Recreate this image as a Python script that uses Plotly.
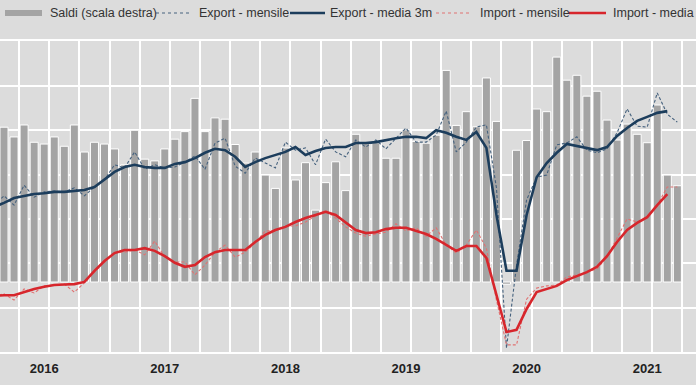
import plotly.graph_objects as go

# ---------------- data (Jan 2016 .. Sep 2021) ----------------
months = [f"{y}-{m:02d}" for y in range(2016, 2022) for m in range(1, 13)][:69]

# Saldi (scala destra), milioni di euro
saldi = [3300,
         3490, 3270, 3540, 3150, 3110, 3270, 3060, 3540, 2930, 3150, 3110, 3000,
         2640, 3420, 2770, 2730, 3000, 3220, 3390, 4140, 3390, 3700, 3670, 3100,
         2680, 2930, 2410, 2110, 3020, 2300, 2690, 1620, 2240, 2710, 2060, 3330,
         3140, 3140, 2790, 2790, 3430, 3170, 3130, 3310, 4770, 3530, 3840, 3500,
         4600, 3620, -50, 2970, 3190, 3900, 3840, 5070, 4550, 4660, 4190, 4300,
         3650, 3200, 3560, 3330, 3140, 3990, 2410, 2170]

export_mensile = [16310,
                  16520, 16310, 16760, 16490, 16610, 16630, 16610, 16700, 16520, 16720, 16880, 17220,
                  17150, 17510, 17120, 17220, 17150, 17170, 17280, 17420, 17120, 17710, 17820, 17190,
                  17030, 17370, 17260, 17150, 17730, 17550, 17600, 17220, 17800, 17510, 17400, 17780,
                  17620, 17780, 17580, 17820, 18050, 17730, 17730, 17890, 18430, 17510, 17730, 18070,
                  18120, 16700, 13090, 14960, 16430, 16940, 16990, 17670, 17710, 17850, 17550, 17490,
                  17580, 17940, 18480, 18090, 18070, 18840, 18360, 18180]

export_media3m = [16270,
                  16360, 16470, 16520, 16560, 16580, 16610, 16610, 16630, 16650, 16720, 16900, 17060,
                  17170, 17220, 17170, 17150, 17150, 17240, 17280, 17370, 17490, 17580, 17550, 17400,
                  17170, 17280, 17370, 17440, 17510, 17620, 17440, 17530, 17600, 17620, 17620, 17710,
                  17710, 17730, 17780, 17820, 17850, 17850, 17820, 18000, 17940, 17850, 17780, 17960,
                  17600, 16090, 14830, 14830, 16090, 16940, 17260, 17490, 17690, 17640, 17600, 17550,
                  17620, 17870, 18050, 18210, 18300, 18390, 18430, None]

import_mensile = [14260,
                  14310, 14170, 14420, 14330, 14490, 14510, 14530, 14350, 14560, 14800, 15030, 15250,
                  15250, 15300, 15190, 15500, 15140, 15030, 15030, 14740, 14960, 15250, 15410, 15140,
                  15250, 15460, 15730, 15730, 15840, 15840, 15930, 16070, 16200, 16020, 15820, 15680,
                  15610, 15660, 15700, 15890, 15730, 15800, 15610, 15800, 15410, 15230, 15410, 15750,
                  15340, 14170, 13160, 13160, 14190, 14440, 14490, 14510, 14690, 14740, 14800, 14870,
                  15140, 15570, 16000, 15930, 16040, 16310, 16720, 16720]

import_media3m = [14260,
                  14280, 14280, 14350, 14420, 14470, 14510, 14520, 14530, 14580, 14830, 15050, 15230,
                  15300, 15300, 15340, 15280, 15160, 15010, 14920, 14960, 15140, 15250, 15300, 15300,
                  15300, 15480, 15640, 15750, 15820, 15930, 16020, 16090, 16160, 16090, 15930, 15750,
                  15680, 15700, 15770, 15800, 15800, 15730, 15660, 15550, 15410, 15280, 15390, 15390,
                  15120, 14260, 13450, 13500, 13970, 14350, 14420, 14490, 14620, 14710, 14800, 14920,
                  15160, 15480, 15750, 15910, 16040, 16310, 16560, None]

year_labels = ["2016", "2017", "2018", "2019", "2020", "2021"]
year_pos = [months.index(f"{y}-06") for y in year_labels]
quarter_grid = [i + 0.5 for i, m in enumerate(months) if m[5:] in ("03", "06", "09", "12")]

x = list(range(len(months)))

# ---------------- styling ----------------
BG = "#dcdcdc"
BAR = "#a4a4a4"
NAVY = "#1c3d5c"
NAVY_D = "#46627e"
RED = "#d7262c"
RED_D = "#e07272"
FONT = "Liberation Sans, Arial, sans-serif"

W, H = 696, 385
T, B = 41, 33
PH = H - T - B


def pxx(v):
    return v / W


def pxy(v):
    return (H - B - v) / PH


fig = go.Figure()
fig.add_trace(go.Bar(x=x, y=saldi, name="Saldi (scala destra)", marker=dict(color=BAR, line=dict(color="white", width=1)),
                     yaxis="y"))
fig.add_trace(go.Scatter(x=x, y=export_mensile, name="Export - mensile", mode="lines",
                         line=dict(color=NAVY_D, width=1.1, dash="3px,2px"), yaxis="y2"))
fig.add_trace(go.Scatter(x=x, y=export_media3m, name="Export - media 3m", mode="lines",
                         line=dict(color=NAVY, width=2.6), yaxis="y2"))
fig.add_trace(go.Scatter(x=x, y=import_mensile, name="Import - mensile", mode="lines",
                         line=dict(color=RED_D, width=1.1, dash="3px,2px"), yaxis="y2"))
fig.add_trace(go.Scatter(x=x, y=import_media3m, name="Import - media 3m", mode="lines",
                         line=dict(color=RED, width=2.6), yaxis="y2"))

# manual legend (top row, overflowing the right edge like the original)
legend_items = [
    ("bar", BAR, None, 5, 42, 48, "Saldi (scala destra)"),
    ("line", NAVY_D, "dot", 156, 190, 197, "Export - mensile"),
    ("line", NAVY, None, 290, 325, 328, "Export - media 3m"),
    ("line", RED_D, "dot", 436, 469, 478, "Import - mensile"),
    ("line", RED, None, 569, 606, 611, "Import - media 3m"),
]
shapes = []
annotations = []
LY = 13
for kind, col, dash, x0, x1, tx, label in legend_items:
    if kind == "bar":
        shapes.append(dict(type="rect", xref="paper", yref="paper", x0=pxx(x0), x1=pxx(x1),
                           y0=pxy(LY + 3), y1=pxy(LY - 3), fillcolor=col, line=dict(width=0)))
    else:
        shapes.append(dict(type="line", xref="paper", yref="paper", x0=pxx(x0), x1=pxx(x1),
                           y0=pxy(LY), y1=pxy(LY),
                           line=dict(color=col, width=1.2 if dash else 2.6, dash=dash or "solid")))
    annotations.append(dict(xref="paper", yref="paper", x=pxx(tx), y=pxy(LY), xanchor="left", yanchor="middle",
                            text=label, showarrow=False, font=dict(family=FONT, size=12.5, color="#333333")))

fig.update_layout(
    width=W, height=H,
    margin=dict(l=0, r=0, t=T, b=B, pad=0),
    paper_bgcolor=BG, plot_bgcolor=BG,
    showlegend=False,
    bargap=0.2,
    shapes=shapes,
    annotations=annotations,
    xaxis=dict(range=[0.602, 69.856], tickmode="array", tickvals=year_pos, ticktext=year_labels,
               showgrid=False, zeroline=False, ticks="",
               tickfont=dict(family=FONT, size=13, color="#222222", weight="bold"),
               ticklabelstandoff=3,
               showline=True, mirror=True, linecolor="white", linewidth=2,
               minor=dict(tickmode="array", tickvals=quarter_grid, showgrid=True, gridcolor="white",
                          gridwidth=1.5, ticks="")),
    yaxis=dict(range=[-1578, 5433], showgrid=False, zeroline=False, showticklabels=False, side="right"),
    yaxis2=dict(range=[13000, 20010], overlaying="y", side="left", showticklabels=False,
                tickmode="array", tickvals=[14000, 15000, 16000, 17000, 18000, 19000, 20000],
                showgrid=True, gridcolor="white", gridwidth=1.5, zeroline=False),
)

fig.write_html("out.html", config={"displayModeBar": False},
               post_script="document.body.style.margin='0';document.body.style.overflow='hidden';")
